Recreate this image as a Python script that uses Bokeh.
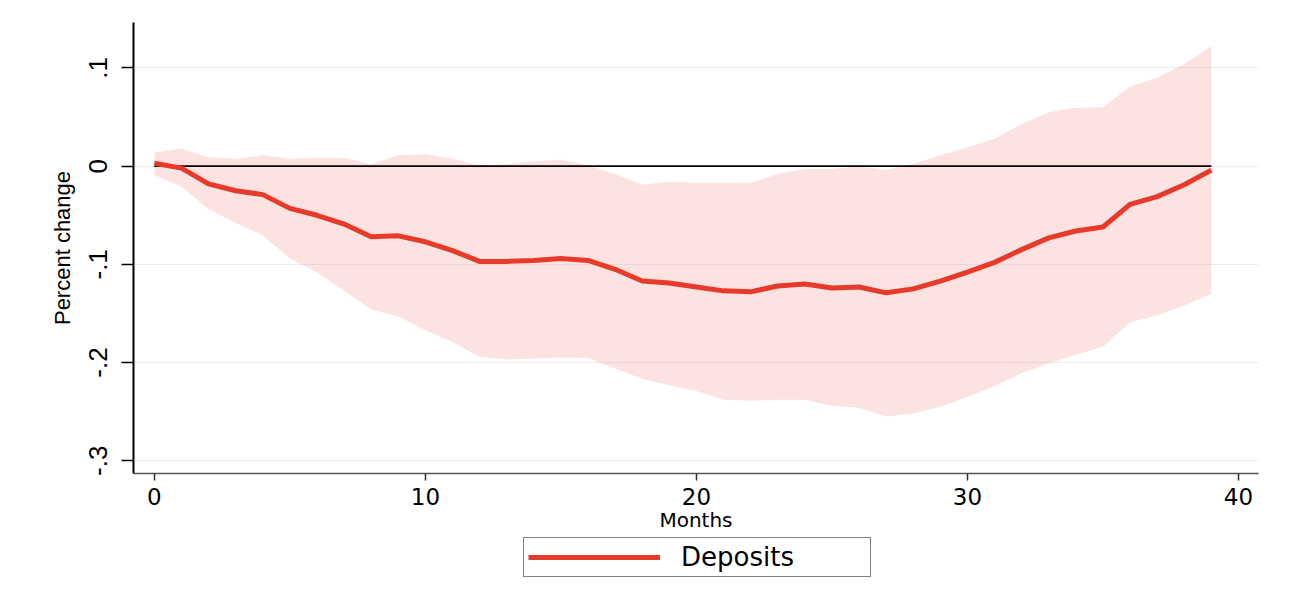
from bokeh.plotting import figure
from bokeh.layouts import column
from bokeh.models import (Range1d, FixedTicker, CustomJSTickFormatter, Legend, LegendItem)
from bokeh.embed import file_html
from bokeh.resources import INLINE

# ---- data ----
months = list(range(40))
irf = [0.003, -0.002, -0.018, -0.025, -0.029, -0.043, -0.050, -0.059, -0.072, -0.071,
       -0.077, -0.086, -0.097, -0.097, -0.096, -0.094, -0.096, -0.105, -0.117, -0.119,
       -0.123, -0.127, -0.128, -0.122, -0.120, -0.124, -0.123, -0.129, -0.125, -0.117,
       -0.108, -0.098, -0.085, -0.073, -0.066, -0.062, -0.039, -0.031, -0.019, -0.004]
upper = [0.014, 0.018, 0.009, 0.0075, 0.011, 0.0075, 0.0085, 0.0085, 0.002, 0.011,
         0.012, 0.0075, 0.001, 0.002, 0.005, 0.0065, 0.001, -0.008, -0.019, -0.016,
         -0.017, -0.017, -0.017, -0.008, -0.003, -0.003, 0.000, -0.004, 0.0025, 0.011,
         0.019, 0.028, 0.043, 0.055, 0.0595, 0.060, 0.081, 0.090, 0.104, 0.122]
lower = [-0.009, -0.021, -0.044, -0.058, -0.0705, -0.094, -0.108, -0.127, -0.146, -0.153,
         -0.167, -0.179, -0.194, -0.197, -0.196, -0.195, -0.1955, -0.206, -0.2165, -0.223,
         -0.229, -0.238, -0.239, -0.238, -0.238, -0.244, -0.246, -0.255, -0.252, -0.245,
         -0.235, -0.224, -0.211, -0.201, -0.192, -0.184, -0.159, -0.152, -0.142, -0.130]
zero_line = [0.0] * 40

x_ticks = [0, 10, 20, 30, 40]
y_ticks = [-0.3, -0.2, -0.1, 0.0, 0.1]
y_tick_labels = ["-.3", "-.2", "-.1", "0", ".1"]
series_name = "Deposits"
x_title = "Months"
y_title = "Percent change"

RED = "#e83a2a"
W = 1295

p = figure(width=W, height=534, output_backend="svg", toolbar_location=None,
           x_range=Range1d(-0.77, 40.74), y_range=Range1d(-0.313, 0.1463),
           min_border_left=133, min_border_right=37, min_border_top=22, min_border_bottom=61)
p.outline_line_color = None
p.background_fill_color = "white"
p.border_fill_color = "white"

p.varea(x=months, y1=lower, y2=upper, fill_color=RED, fill_alpha=0.14)
p.line(months, zero_line, line_color="black", line_width=1.8)
p.line(months, irf, line_color=RED, line_width=5, line_join="round")

# axes
p.xgrid.visible = False
p.ygrid.grid_line_color = "#e8eff1"
p.ygrid.grid_line_width = 1.2
p.ygrid.ticker = FixedTicker(ticks=y_ticks)

xa = p.xaxis[0]
xa.ticker = FixedTicker(ticks=x_ticks)
xa.axis_line_color = "#555555"
xa.axis_line_width = 1.5
xa.major_tick_line_color = "#333333"
xa.major_tick_line_width = 1.5
xa.major_tick_out = 7
xa.major_tick_in = 0
xa.minor_tick_line_color = None
xa.major_label_text_font = "DejaVu Sans"
xa.major_label_text_font_size = "23px"
xa.major_label_text_color = "black"
xa.major_label_standoff = 7
xa.axis_label = x_title
xa.axis_label_text_font = "DejaVu Sans"
xa.axis_label_text_font_size = "20px"
xa.axis_label_text_font_style = "normal"
xa.axis_label_text_color = "black"
xa.axis_label_standoff = 0

ya = p.yaxis[0]
ya.ticker = FixedTicker(ticks=y_ticks)
ya.formatter = CustomJSTickFormatter(args=dict(tvals=y_ticks, tlabs=y_tick_labels), code="""
for (let i = 0; i < tvals.length; i++) {
  if (Math.abs(tick - tvals[i]) < 1e-9) return tlabs[i];
}
return String(tick);
""")
ya.axis_line_color = "black"
ya.axis_line_width = 2
ya.major_tick_line_color = "black"
ya.major_tick_line_width = 1.5
ya.major_tick_out = 12
ya.major_tick_in = 0
ya.minor_tick_line_color = None
ya.major_label_orientation = "vertical"
ya.major_label_text_font = "Liberation Sans"
ya.major_label_text_font_size = "26px"
ya.major_label_text_color = "black"
ya.major_label_standoff = 14
ya.axis_label = y_title
ya.axis_label_text_font = "Liberation Sans"
ya.axis_label_text_font_size = "22px"
ya.axis_label_text_font_style = "normal"
ya.axis_label_text_color = "black"
ya.axis_label_standoff = 12

# ---- legend strip below the chart (frame aligned with the chart's frame) ----
p2 = figure(width=W, height=66, output_backend="svg", toolbar_location=None,
            x_range=Range1d(0, 1), y_range=Range1d(0, 1),
            x_axis_location=None, y_axis_location=None,
            min_border=0, min_border_left=0, min_border_right=0,
            min_border_top=0, min_border_bottom=0)
p2.outline_line_color = None
p2.grid.visible = False
p2.background_fill_color = "white"
p2.border_fill_color = "white"
key = p2.line(x=[-5, -4], y=[-5, -5], line_color=RED, line_width=5)

legend = Legend(items=[LegendItem(label=series_name, renderers=[key])],
                location=(390, 23), orientation="horizontal",
                border_line_color="black", border_line_width=1.2,
                background_fill_color="white", background_fill_alpha=1,
                padding=4, margin=0, spacing=0,
                glyph_width=132, glyph_height=20, label_standoff=21,
                label_width=185,
                label_text_font="DejaVu Sans", label_text_font_size="26px",
                label_text_color="black")
p2.add_layout(legend, "center")

layout = column(p, p2, spacing=0)
open("out.html", "w").write(file_html(layout, INLINE))
